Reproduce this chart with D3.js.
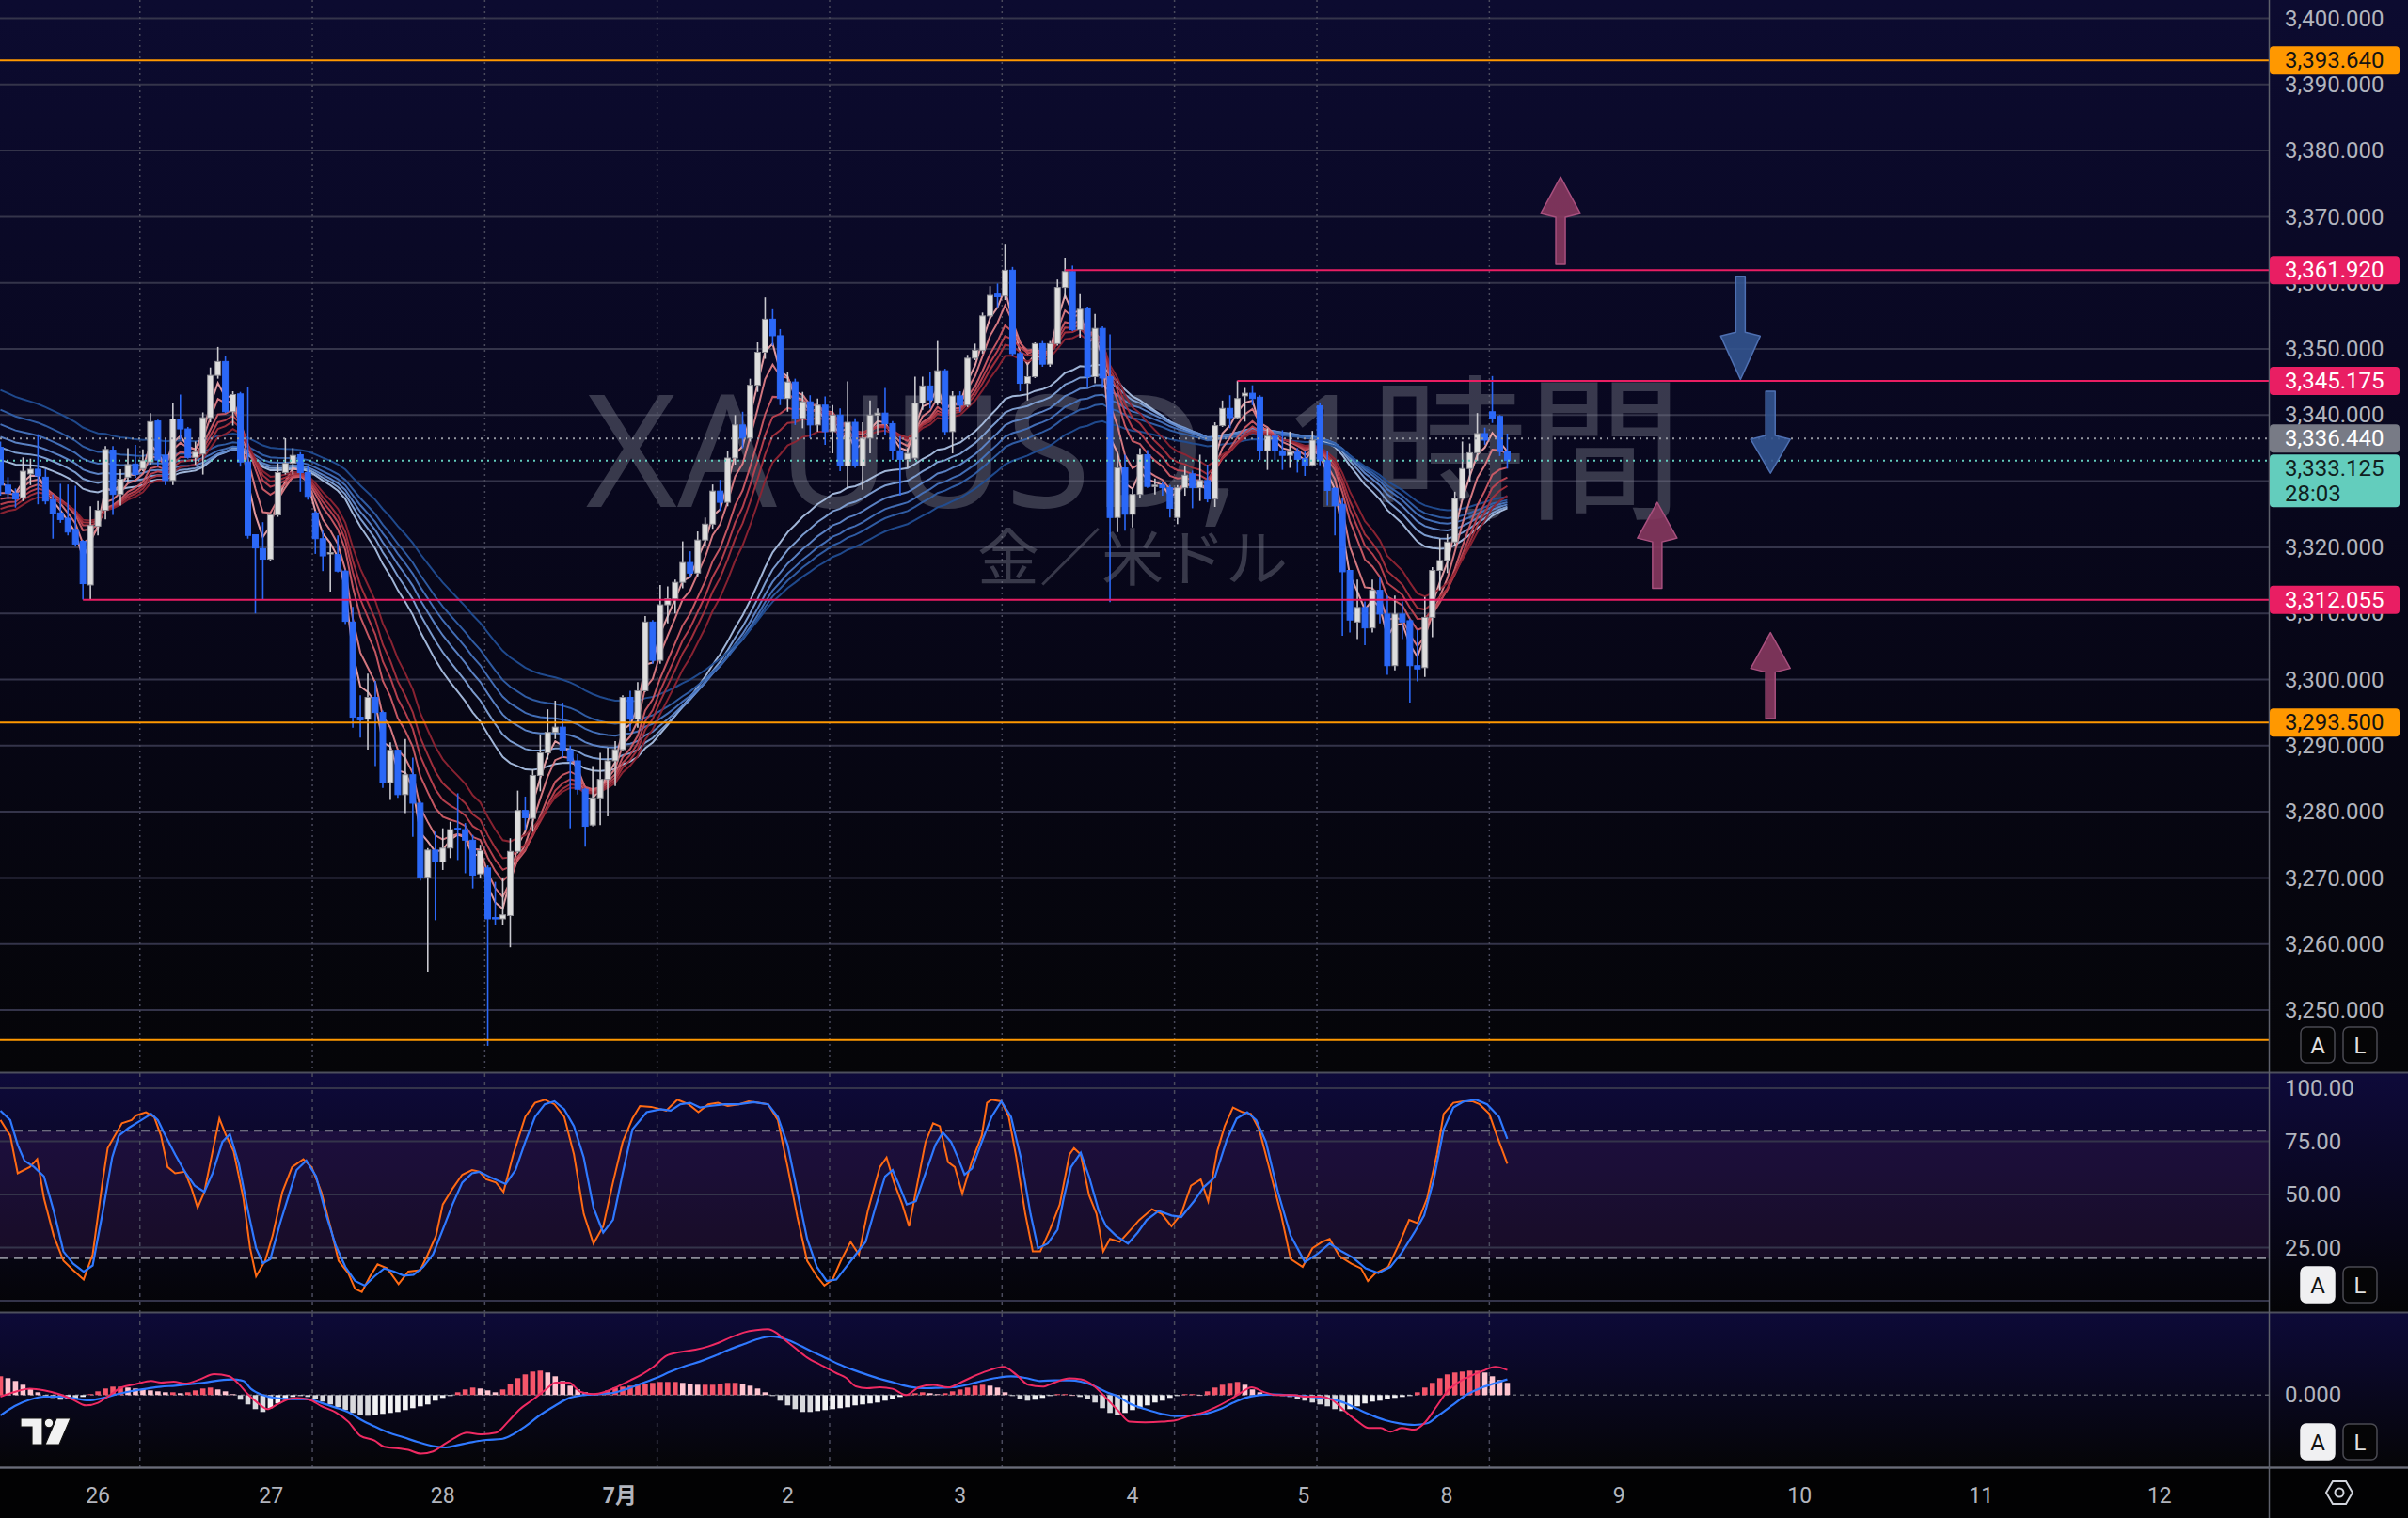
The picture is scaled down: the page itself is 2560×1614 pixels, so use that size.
<!DOCTYPE html>
<html><head><meta charset="utf-8">
<script src="https://cdn.jsdelivr.net/npm/d3@7"></script>
<style>html,body{margin:0;padding:0;background:#000;}svg{display:block;}</style>
</head><body>
<svg id="chart" width="2560" height="1614"></svg>
<script>
// ---------------- DATA ----------------
// hourly candles, bar index 0..201 : [open, high, low, close]
const ohlc = [
[3335.1,3336.0,3327.8,3329.4],[3329.4,3330.6,3327.3,3328.2],[3328.2,3328.9,3326.0,3327.3],[3327.5,3333.6,3327.0,3331.5],
[3331.1,3333.4,3329.4,3331.8],[3331.8,3337.1,3326.5,3330.8],[3330.6,3331.8,3326.5,3327.0],[3327.2,3328.0,3321.3,3325.1],
[3325.2,3329.6,3323.7,3324.2],[3324.4,3329.5,3321.8,3322.3],[3322.7,3329.3,3320.1,3320.5],[3320.9,3321.1,3312.1,3314.5],
[3314.3,3326.2,3312.1,3323.3],[3323.2,3327.0,3321.8,3325.6],[3325.6,3335.3,3324.2,3334.8],[3334.7,3335.3,3324.9,3328.0],
[3328.0,3331.8,3326.3,3330.3],[3330.6,3335.0,3329.8,3332.5],[3332.6,3335.5,3330.5,3331.0],[3331.9,3334.8,3331.5,3333.1],
[3332.9,3340.3,3332.5,3339.0],[3339.1,3339.3,3332.2,3333.2],[3333.9,3336.5,3329.4,3330.1],[3330.1,3341.8,3329.4,3339.4],
[3339.4,3343.1,3336.3,3337.9],[3337.9,3338.2,3333.4,3333.6],[3333.6,3336.0,3332.5,3334.4],[3334.1,3340.4,3331.0,3339.6],
[3339.6,3347.2,3338.9,3346.0],[3346.0,3350.3,3345.5,3348.1],[3348.1,3348.9,3340.3,3340.5],[3340.5,3343.6,3338.4,3343.1],
[3343.2,3343.5,3332.2,3332.9],[3332.9,3344.2,3321.3,3321.8],[3321.9,3321.9,3310.0,3319.9],[3319.8,3323.8,3312.1,3318.2],
[3318.2,3325.1,3318.0,3324.9],[3324.9,3332.7,3324.6,3331.3],[3331.3,3336.5,3331.0,3332.7],[3332.7,3335.0,3331.0,3333.9],
[3334.0,3334.4,3328.4,3331.3],[3331.3,3332.2,3327.2,3327.7],[3325.2,3325.5,3319.0,3321.3],[3321.3,3322.5,3316.4,3318.7],
[3319.0,3320.6,3313.3,3319.2],[3318.9,3321.8,3316.2,3316.4],[3316.4,3316.6,3308.4,3308.8],[3308.7,3311.0,3292.7,3294.3],
[3294.3,3297.6,3291.2,3293.9],[3294.0,3300.9,3289.4,3297.3],[3297.3,3299.8,3286.9,3295.0],[3295.0,3295.3,3283.6,3284.4],
[3284.4,3290.5,3281.8,3289.3],[3289.3,3289.4,3282.1,3282.6],[3282.6,3291.0,3279.8,3285.6],[3285.6,3288.2,3276.2,3281.3],
[3281.3,3281.6,3269.6,3270.1],[3270.1,3274.5,3255.7,3274.2],[3274.2,3277.0,3263.6,3272.4],[3272.4,3277.5,3271.2,3274.5],
[3274.5,3278.5,3273.0,3277.3],[3277.5,3282.8,3272.7,3277.3],[3277.3,3278.3,3270.7,3275.7],[3275.7,3276.5,3268.4,3270.4],
[3270.6,3275.0,3269.9,3274.1],[3271.5,3271.9,3244.6,3263.8],[3264.0,3269.4,3262.8,3263.8],[3263.8,3269.9,3262.8,3264.4],
[3264.3,3276.0,3259.5,3274.0],[3274.0,3283.2,3273.7,3280.2],[3280.2,3282.3,3277.3,3279.1],[3279.0,3286.4,3277.0,3285.5],
[3285.5,3291.7,3283.1,3288.9],[3288.9,3295.5,3287.9,3292.0],[3292.0,3296.8,3291.0,3292.8],[3292.8,3296.5,3288.2,3289.3],
[3289.3,3290.0,3277.5,3287.7],[3287.7,3288.7,3282.6,3283.4],[3283.4,3283.6,3274.7,3277.8],[3278.0,3286.9,3277.8,3282.1],
[3282.1,3288.9,3278.0,3284.9],[3284.9,3289.7,3279.3,3287.7],[3287.7,3290.7,3283.9,3289.4],[3289.4,3297.6,3289.2,3297.3],
[3297.3,3298.3,3292.2,3294.0],[3294.0,3299.6,3292.7,3298.3],[3298.3,3309.6,3298.1,3308.7],[3308.7,3309.0,3302.4,3302.9],
[3302.9,3314.3,3302.4,3311.3],[3311.3,3314.1,3308.5,3312.2],[3312.2,3315.1,3310.0,3314.7],[3314.7,3320.9,3313.8,3317.7],
[3317.7,3319.4,3315.6,3316.1],[3316.1,3322.4,3315.6,3321.1],[3321.1,3324.5,3320.2,3323.5],[3323.5,3329.5,3322.8,3328.5],
[3328.5,3330.2,3325.5,3326.8],[3326.8,3334.5,3326.2,3333.5],[3333.5,3340.0,3332.5,3338.5],[3338.5,3340.5,3335.0,3336.5],
[3336.5,3345.5,3336.0,3344.5],[3344.5,3351.0,3343.5,3349.5],[3349.5,3357.8,3348.5,3354.5],[3354.5,3356.0,3350.5,3352.0],
[3352.0,3353.0,3341.5,3342.5],[3342.5,3346.5,3340.5,3345.0],[3345.0,3345.5,3338.5,3339.5],[3339.5,3343.5,3338.0,3342.0],
[3342.0,3343.0,3336.5,3338.5],[3338.5,3342.5,3337.5,3341.5],[3341.5,3342.8,3335.5,3337.5],[3337.5,3341.5,3334.2,3340.0],
[3340.0,3341.0,3331.5,3332.3],[3332.3,3345.1,3328.9,3338.9],[3338.9,3339.5,3332.0,3332.3],[3332.3,3338.9,3328.7,3336.5],
[3336.5,3342.2,3334.2,3340.0],[3340.0,3341.0,3337.0,3340.3],[3340.3,3344.1,3337.0,3338.7],[3338.7,3339.1,3333.2,3334.6],
[3334.6,3336.8,3327.8,3333.3],[3333.3,3335.0,3332.0,3334.2],[3333.5,3345.8,3333.2,3341.8],[3341.8,3345.8,3340.8,3344.4],
[3344.4,3346.5,3341.0,3342.3],[3341.8,3351.2,3341.5,3346.7],[3346.7,3347.0,3337.0,3337.5],[3337.5,3343.6,3334.2,3342.9],
[3342.9,3343.6,3340.5,3341.5],[3341.5,3349.1,3341.2,3348.6],[3348.6,3350.8,3348.3,3349.8],[3349.8,3355.5,3349.3,3355.0],
[3355.0,3359.5,3354.5,3358.1],[3358.3,3359.9,3356.3,3357.9],[3358.0,3365.9,3357.4,3361.9],[3361.9,3362.4,3349.0,3349.3],
[3349.3,3349.6,3343.6,3344.8],[3344.8,3347.7,3342.2,3345.8],[3345.8,3351.0,3345.6,3350.8],[3350.8,3351.2,3347.3,3347.7],
[3347.7,3351.2,3347.3,3350.8],[3350.8,3360.5,3350.5,3359.3],[3359.3,3363.8,3357.6,3361.7],[3361.7,3362.6,3352.7,3352.9],
[3352.9,3358.3,3351.7,3356.0],[3356.2,3356.4,3344.1,3345.8],[3345.8,3355.3,3344.8,3353.1],[3353.1,3353.4,3344.1,3345.6],
[3345.8,3352.2,3311.7,3324.5],[3324.5,3334.2,3322.3,3332.0],[3332.0,3334.0,3322.5,3325.0],[3325.0,3329.0,3323.0,3328.0],
[3328.0,3335.0,3327.5,3334.0],[3334.0,3334.7,3329.0,3329.2],[3329.2,3330.4,3328.0,3329.4],[3329.4,3329.9,3327.8,3329.0],
[3329.0,3329.4,3324.5,3325.9],[3324.5,3329.4,3323.5,3329.0],[3329.0,3332.3,3327.8,3330.9],[3331.1,3331.6,3325.9,3329.0],
[3329.0,3334.0,3327.0,3330.1],[3330.1,3332.5,3326.8,3327.3],[3327.3,3338.9,3326.1,3338.4],[3338.4,3342.2,3338.2,3341.0],
[3341.0,3343.0,3338.0,3339.6],[3339.6,3345.2,3339.4,3342.5],[3342.9,3344.1,3339.0,3343.3],[3343.3,3344.5,3341.5,3342.5],
[3342.7,3343.0,3333.2,3334.6],[3334.6,3338.0,3331.7,3336.8],[3336.8,3337.7,3333.2,3334.6],[3334.6,3337.7,3331.7,3333.9],
[3333.9,3337.5,3332.0,3334.4],[3334.4,3335.0,3331.3,3333.3],[3333.4,3334.5,3330.8,3332.4],[3332.4,3337.6,3332.2,3336.2],
[3341.4,3341.9,3332.4,3333.1],[3333.1,3334.5,3326.3,3328.6],[3328.9,3329.1,3321.8,3326.3],[3326.5,3327.4,3306.6,3316.3],
[3316.5,3316.5,3307.1,3309.0],[3308.7,3315.1,3306.1,3310.9],[3310.9,3311.8,3305.2,3307.8],[3307.8,3315.1,3307.1,3313.5],
[3313.5,3315.4,3308.5,3309.9],[3309.9,3312.7,3300.7,3302.1],[3302.1,3312.7,3301.4,3309.9],[3309.9,3311.8,3306.1,3308.7],
[3308.9,3309.2,3296.5,3302.1],[3302.1,3307.5,3299.7,3301.6],[3301.8,3312.5,3300.4,3309.4],[3309.4,3317.0,3306.4,3316.5],
[3316.5,3321.3,3313.5,3318.0],[3318.0,3322.0,3316.1,3320.8],[3320.8,3328.4,3320.1,3327.4],[3327.4,3336.0,3327.2,3331.9],
[3331.9,3335.7,3329.8,3334.3],[3334.3,3340.3,3333.1,3337.2],[3337.2,3338.1,3335.5,3336.2],[3340.5,3345.9,3338.8,3339.5],
[3339.8,3340.0,3333.8,3334.5],[3334.5,3337.2,3331.9,3333.125]
];

// GMMA (short: red group, long: blue group) – periods and their values at the left edge
const gmmaShortPeriods = [3, 5, 8, 10, 12, 15];
const gmmaShortStart   = [3329.9, 3328.2, 3327.3, 3326.5, 3325.8, 3325.1];
const gmmaLongPeriods  = [30, 35, 40, 45, 50, 60];
const gmmaLongStart    = [3333.2, 3335.1, 3336.7, 3338.6, 3340.8, 3343.8];

// price axis
const priceTicks = [3250,3260,3270,3280,3290,3300,3310,3320,3330,3340,3350,3360,3370,3380,3390,3400];
// labels actually visible on the axis (3,330 is covered by the live price tag)
const priceLabelTicks = [3250,3260,3270,3280,3290,3300,3310,3320,3340,3350,3360,3370,3380,3390,3400];
// horizontal drawings
const levelPrices = [3393.64, 3361.92, 3345.175, 3312.055, 3293.5, 3245.5];
const levelStart  = [null, 142, 165, 11, null, null];
const levelKind   = ["orange", "red", "red", "red", "orange", "orange"];
const tagPrices = [3393.64, 3361.92, 3345.175, 3312.055, 3293.5];
const tagKind   = ["orange", "red", "red", "red", "orange"];
const prevClose = 3336.44;
const lastPrice = 3333.125;
const countdown = "28:03";

// arrows: bar, tail price, tip price
const arrowBars = [208.1, 232.1, 236.1, 221.0, 236.1];
const arrowTail = [3362.8, 3361.0, 3343.6, 3313.8, 3294.1];
const arrowTip  = [3376.0, 3345.4, 3331.2, 3326.8, 3307.1];
const arrowKind = ["up", "down", "down", "up", "up"];

// time axis
const dayTickBars   = [13, 36.1, 59, 82.6, 105, 128, 151, 173.8, 192.9, 215.9, 240, 264.2, 288];
const dayTickLabels = ["26","27","28","7月","2","3","4","5","8","9","10","11","12"];
const gridBars = [18.6, 41.6, 64.6, 87.6, 110.6, 133.6, 156.6, 175.6, 198.6];

// stochastic [bar, value]
const stochK = [[0,85],[1.3,77.7],[2.3,60],[3.9,62.9],[4.9,66.6],[5.8,48.2],[7.1,30.6],[8.4,18.8],[9.7,14.4],[11.1,10],[12.3,21.8],[13.6,55.6],[14.3,71.8],[16.2,83.5],[17.5,85],[18.1,87.2],[19.4,88.7],[20.5,86.5],[21.4,77.7],[22.3,62.9],[23.3,60],[24.6,60.7],[25.5,52.7],[26.3,43.8],[27.2,51.2],[28.3,70.3],[29.2,85.7],[30.1,77.7],[31.1,70.3],[32.4,48.2],[33.3,24.7],[34.1,11.5],[35.3,18.8],[36.3,30.6],[37.6,51.2],[38.9,62.9],[40.4,66.6],[41.5,62.9],[42.8,51.2],[44.1,33.5],[45.1,18.8],[46.4,12.9],[47.3,5.6],[48.2,4.1],[49.3,11.5],[50.3,17.1],[51.6,15.2],[53.1,7.8],[54.4,13.7],[56,14.4],[57,21.8],[58.1,30.6],[59,45.3],[60.3,52.7],[61.6,59.3],[62.9,61.5],[63.9,60.7],[64.8,57.1],[66.1,55.6],[67.1,51.2],[68.4,68.8],[70,86.5],[71.3,93.1],[72.6,94.6],[73.9,92.4],[75.2,86.5],[76.5,68.8],[77.8,40.9],[79.1,26.9],[80.4,35],[81.7,55.6],[83,74.7],[84.3,85.7],[85.3,91.6],[86.8,91.2],[88.8,89.4],[90.3,94.6],[91.8,92.4],[93.1,88.7],[94.4,92.4],[95.7,93.1],[97,91.6],[98.5,92.4],[99.8,93.8],[101.1,93.1],[102.4,92.4],[103.7,85],[105,62.9],[106.3,39.4],[107.6,18.8],[108.9,11.5],[109.9,7.1],[111,10],[112.1,18.8],[113.4,27.7],[114.5,21.8],[115.7,42.3],[117.3,62.9],[118.2,67.4],[119.2,55.6],[120.3,45.3],[121.2,35],[122.5,58.5],[123.4,74.7],[124.4,83.5],[125.3,82.1],[126.4,65.2],[127.3,62.9],[128.3,50.4],[129.6,65.9],[130.9,77.7],[131.6,93.1],[132.2,94.6],[133.5,93.8],[134.5,86.5],[135.5,67.4],[136.7,40.9],[137.7,23.2],[138.7,23.2],[140,33.5],[141.3,45.3],[142.6,68.8],[143.2,71.8],[144.1,68.8],[145.2,49.7],[146.2,40.9],[147.1,23.2],[148,29.1],[149.3,27.7],[150.6,32.8],[151.9,38],[153.6,43.1],[154.9,40.9],[156.2,35],[157.5,40.9],[158.8,54.1],[160.1,57.1],[161.1,46.8],[162.3,70.3],[163.3,82.1],[164.4,90.9],[165.7,88.7],[166.8,87.9],[167.9,80.6],[169.2,62.9],[170.8,40.9],[172.1,19.6],[173.7,15.9],[175,24.7],[176.3,27.7],[177.3,29.1],[178.6,21],[180.2,17.4],[181.5,15.2],[182.4,9.3],[183.4,12.9],[185.1,15.9],[186.6,26.9],[187.9,38],[189,36.5],[190.3,48.2],[191.6,68.8],[192.5,87.9],[193.8,93.1],[195.1,93.8],[196.4,93.8],[197.3,92.4],[198.6,87.9],[199.6,77.7],[201,64.4]];
const stochD = [[0,89.4],[1.3,85],[2.3,73.3],[3.2,65.9],[4.5,62.9],[5.8,58.5],[7.1,42.3],[8.4,23.2],[9.7,17.4],[11.1,13.7],[12.3,16.6],[13.6,40.9],[14.9,67.4],[15.8,77.7],[17.1,81.3],[18.8,85],[20.1,87.9],[21,85],[22,77.7],[23.3,68.8],[24.6,60.7],[25.9,54.1],[27.2,51.2],[28.3,60],[29.6,74.7],[30.6,78.4],[31.8,64.4],[33.1,40.9],[34.1,24.7],[35,17.6],[36,19.6],[37.3,36.5],[38.6,51.2],[39.5,61.5],[40.8,65.9],[42.1,58.5],[43.4,40.9],[44.7,26.2],[46,15.9],[47.3,9.3],[48.6,7.1],[49.9,11.5],[51.2,15.2],[52.5,13.7],[53.8,11.8],[55.1,12.2],[56.4,15.9],[57.7,21.8],[59,33.5],[60.3,45.3],[61.6,55.6],[62.9,60],[63.9,60.7],[65.5,57.8],[67.4,54.9],[68.7,61.5],[70,74.7],[71.3,86.5],[72.6,92.4],[73.9,93.8],[75.2,90.1],[76.5,82.1],[77.8,67.4],[79.1,43.8],[80.4,32.1],[81.7,38],[83,60],[84.3,80.6],[86.2,88.7],[88.1,90.1],[89.4,89.4],[90.7,92.4],[92,93.1],[93.3,90.9],[94.6,91.6],[96.6,92.4],[98.5,92.4],[100.5,93.4],[102.4,92.4],[103.7,86.5],[105,73.3],[106.3,51.2],[107.6,29.1],[108.9,15.9],[110.2,9.3],[111.5,10],[112.8,15.9],[114.1,21.8],[115.4,27.7],[116.7,43.8],[118,58.5],[119,61.5],[119.9,54.1],[120.9,45.3],[122.1,46.8],[123.4,60],[124.7,73.3],[125.7,79.2],[126.8,74.7],[127.7,67.4],[128.6,59.3],[129.6,62.2],[130.9,74.7],[132.2,86.5],[133.5,93.8],[134.8,86.5],[136.1,67.4],[137.4,40.9],[138.4,24.7],[139.7,26.9],[141,33.5],[141.8,47.8],[142.8,62.9],[144.1,69.6],[145.2,58.5],[146.5,42.3],[147.5,35],[148.8,30.6],[150.4,26.9],[151.7,32.1],[152.9,38],[154.5,42.3],[156.2,40.1],[157.5,39.4],[159.2,46.8],[160.5,53.4],[162,58.2],[163.6,75.8],[164.9,85.7],[166.3,88.7],[167.5,85],[168.8,74.7],[170.4,51.2],[172.1,30.6],[174,18.2],[175.6,21.8],[177.3,26.9],[178.9,23.2],[180.4,20.3],[182.1,15.2],[183.8,13],[185.4,15.9],[186.9,22.5],[188.6,32.1],[189.9,40.1],[191.2,57.1],[192.5,80.6],[193.8,90.9],[195.1,93.6],[196.8,94.6],[198.3,92.4],[199.9,86.5],[201,76.2]];
const stochTicks = [100, 75, 50, 25];
const stochBands = [80, 20];

// MACD [bar, value]
const macdLine = [[0,-0.17],[1.9,0.33],[3.9,0.67],[5.8,0.5],[7.8,0.1],[9.7,-0.5],[11.4,-1.1],[13,-0.83],[14.3,-0.17],[16.2,0.83],[18.1,1.17],[20.1,1.5],[21.4,1.33],[23.1,1.43],[24.6,1.23],[26.6,1.67],[28.5,2.23],[30.5,2.0],[31.8,1.17],[33.1,0],[34.3,-0.83],[35.6,-1.5],[36.9,-1.0],[38.2,-0.5],[39.5,-0.33],[41.2,-0.5],[42.8,-1.17],[44.7,-1.83],[46.4,-2.83],[48,-4.33],[49.9,-4.83],[51.2,-5.5],[53.1,-5.67],[54.4,-5.83],[56.1,-6.23],[57.7,-6.0],[59,-5.33],[60.7,-4.5],[62.2,-4.0],[64.2,-4.17],[66.1,-4.0],[67.7,-2.83],[69.3,-1.5],[71,-0.5],[72.6,0.5],[74.1,1.33],[75.8,1.33],[77.4,0.33],[79.1,0.1],[80.6,0.33],[82.3,0.9],[84,1.57],[85.5,2.17],[87.1,3.0],[88.8,4.17],[90.7,4.57],[92.7,4.83],[94.4,5.17],[95.9,5.6],[97.5,6.17],[99.2,6.67],[100.8,6.9],[102.4,7.0],[103.4,6.67],[104.7,5.83],[106,5.0],[107.6,4.0],[109.5,3.17],[111.5,2.33],[112.8,1.83],[114.1,0.93],[115.6,0.73],[117.3,0.83],[119,0.67],[120.8,0],[122.5,0.83],[124.4,1.07],[126.4,0.83],[128.3,1.43],[130.3,2.17],[132,2.67],[133.8,3.0],[135.5,2.17],[137.1,1.1],[139,0.9],[140.6,1.33],[142.6,1.77],[144.1,1.67],[145.8,1.0],[147.5,-0.33],[149.1,-1.67],[150.6,-2.83],[152.7,-2.9],[154.9,-2.83],[156.8,-2.67],[158.8,-2.17],[160.5,-1.83],[162,-1.33],[163.6,-0.67],[165.3,0.17],[166.9,0.83],[168.5,0.33],[170.4,0],[172.4,0],[174.3,-0.17],[176,-0.17],[177.6,-0.5],[179.5,-1.83],[181.1,-2.83],[182.5,-3.5],[184.1,-3.5],[185.4,-3.9],[186.9,-3.5],[188.6,-3.67],[189.9,-3.0],[191.6,-1.17],[193.1,0.5],[194.4,1.33],[196,2.0],[197.7,2.57],[199.4,3.0],[201,2.67]];
const signalLine = [[0,-2.17],[1.9,-1.17],[3.9,-0.5],[5.8,-0.17],[7.8,-0.17],[9.7,-0.33],[11.7,-0.57],[13.6,-0.33],[15.6,0.1],[17.5,0.43],[19.4,0.67],[21.4,0.9],[23.3,1.0],[25.3,1.17],[27.2,1.33],[29.2,1.57],[31.1,1.67],[32.4,1.5],[33.4,0.67],[35,0],[36.9,-0.33],[38.9,-0.43],[40.8,-0.43],[42.8,-0.83],[44.7,-1.33],[46.4,-1.83],[48.2,-2.67],[49.9,-3.33],[51.8,-4.0],[53.8,-4.5],[55.7,-5.0],[57.7,-5.43],[59.4,-5.57],[60.9,-5.33],[62.9,-5.0],[64.8,-4.77],[66.8,-4.67],[68,-4.33],[70,-3.33],[71.9,-2.17],[73.9,-1.17],[75.8,-0.33],[77.8,0],[79.7,0.1],[81.7,0.23],[83.6,0.67],[85.5,1.23],[87.5,1.83],[89.4,2.5],[91.4,3.1],[93.3,3.57],[95.3,4.17],[97.2,4.83],[99.2,5.43],[100.8,5.9],[102.7,6.23],[103.7,6.17],[105.3,5.77],[106.9,5.17],[108.6,4.5],[110.2,3.9],[111.7,3.33],[113.8,2.67],[115.6,2.17],[117.3,1.73],[119.2,1.33],[121.2,0.9],[123.1,0.73],[125.1,0.77],[127,0.83],[129,1.1],[130.9,1.5],[132.9,1.83],[134.8,2.0],[136.7,1.83],[138.7,1.5],[140.6,1.57],[142.6,1.57],[144.1,1.43],[145.8,1.0],[147.5,0.33],[149.1,-0.17],[150.6,-0.9],[152.7,-1.5],[154.9,-2.0],[156.8,-2.23],[158.8,-2.17],[160.7,-2.0],[162.7,-1.5],[164.4,-0.83],[165.9,-0.33],[167.9,0],[169.8,0.07],[171.7,0],[173.7,-0.1],[175.6,-0.23],[177.6,-0.43],[179.5,-0.9],[181.1,-1.5],[183,-2.17],[184.7,-2.67],[186.6,-3.0],[188.6,-3.17],[190.3,-3.0],[191.8,-2.17],[193.8,-1.0],[195.7,0.1],[197.7,0.83],[199.6,1.33],[201,1.67]];
// histogram, one value per bar
const macdHist = [
2.0,1.8,1.5,1.1,0.7, 0.3,-0.1,-0.3,-0.5,-0.4, -0.4,-0.2,0.1, 0.4,0.7,0.9,0.9,0.8, 0.7,0.6,0.5,0.4,0.3,
0.3,0.2,0.3,0.5,0.7,0.8,0.6, 0.4,0.1, -0.5,-1.0,-1.5,-1.8,-1.4,-0.9, -0.5,-0.2,-0.1,-0.2,
-0.4,-0.7,-1.0,-1.3,-1.6,-1.9,-2.1,-2.2,-2.1,-2.0,-1.9,-1.8,-1.6,-1.4,-1.2,-1.0, -0.6,-0.3,-0.1,
0.3,0.6,0.8,0.7,0.5,0.3, 0.6,1.2,1.8,2.2,2.5, 2.6,2.4,2.0, 1.5,1.0,0.6,0.3,0.1, 0.2,0.5,0.8,0.9,1.0,
1.1,1.2,1.3,1.4,1.4,1.4,1.3,1.2,1.1,1.1,1.1,1.2,1.3,1.3,1.2,1.0, 0.7,0.3,-0.1,
-0.6,-1.1,-1.5,-1.8,-1.8,-1.7,-1.6,-1.5,-1.4,-1.3,-1.1,-1.0,-0.9,-0.8, -0.6,-0.4,-0.2,0.0,
0.2,0.3,0.2,0.1,0.2, 0.4,0.6,0.8,1.0,1.1,1.0,0.8, 0.3,-0.1, -0.4,-0.6,-0.5,-0.3,-0.1,0.1, 0.1,0.0,-0.2,-0.4,
-0.8,-1.4,-1.9,-2.1,-1.9,-1.6,-1.4,-1.1,-0.8,-0.6,-0.3, -0.1,0.1,0.1,0.0, 0.4,0.8,1.1,1.3,1.4,1.1,0.6,
0.3,0.1,0.0,-0.1,-0.2, -0.4,-0.6,-0.8,-1.0,-1.2,-1.5,-1.7,-1.5,-1.2,-0.9, -0.7,-0.6,-0.4,-0.3,-0.2,-0.1,
0.3,0.8,1.3,1.8,2.2,2.4,2.5, 2.6,2.6,2.4,2.0,1.6,1.3
];
const macdTicks = [0];

const watermarkTitle = "XAUUSD, 1時間";
const watermarkSub = "金／米ドル";

// ---------------- LAYOUT ----------------
const W = 2560, H = 1614, PR = 2412;
const MAIN = [0, 1140], STO = [1141, 1395], MAC = [1396, 1560];
const FONT = "Roboto, 'Noto Sans', 'Noto Sans CJK JP', sans-serif";
const COL = {
  up: "#dedede", upStroke: "#8f8f96", upWick: "#c9c9cf",
  down: "#2b68f7", downWick: "#2b68f7",
  orange: "#ff9800", red: "#e91e63", grey: "#787b86", teal: "#63cdbd",
  grid: "#34344a", vgrid: "#4a4a5c", axisText: "#b2b5be"
};

const svg = d3.select("#chart");
const defs = svg.append("defs");
function vgrad(id, y0, y1, stops) {
  const g = defs.append("linearGradient").attr("id", id).attr("gradientUnits", "userSpaceOnUse")
    .attr("x1", 0).attr("x2", 0).attr("y1", y0).attr("y2", y1);
  stops.forEach(s => g.append("stop").attr("offset", s[0]).attr("stop-color", s[1]));
}
vgrad("bgMain", MAIN[0], MAIN[1], [[0, "#0c0b30"], [0.45, "#08071d"], [1, "#050508"]]);
vgrad("bgSto", STO[0], STO[1], [[0, "#0e0a3a"], [1, "#040406"]]);
vgrad("bgMac", MAC[0], MAC[1], [[0, "#0d0a38"], [1, "#050507"]]);
function clip(id, y0, y1) {
  defs.append("clipPath").attr("id", id).append("rect").attr("x", 0).attr("y", y0).attr("width", PR).attr("height", y1 - y0);
}
clip("cMain", MAIN[0], MAIN[1]); clip("cSto", STO[0], STO[1]); clip("cMac", MAC[0], MAC[1]);

// scales
const x = d3.scaleLinear().domain([0, 302.6]).range([0.5, 0.5 + 302.6 * 7.97]);
const yP = d3.scaleLinear().domain([3400, 3250]).range([19.5, 19.5 + 150 * 7.03]);
const yS = d3.scaleLinear().domain([100, 0]).range([1157, 1383]);
const yM = d3.scaleLinear().domain([0, 1]).range([1483.3, 1473.3]);

// backgrounds
svg.append("rect").attr("x", 0).attr("y", 0).attr("width", W).attr("height", H).attr("fill", "#030304");
svg.append("rect").attr("x", 0).attr("y", MAIN[0]).attr("width", W).attr("height", MAIN[1] - MAIN[0]).attr("fill", "url(#bgMain)");
svg.append("rect").attr("x", 0).attr("y", STO[0]).attr("width", W).attr("height", STO[1] - STO[0]).attr("fill", "url(#bgSto)");
svg.append("rect").attr("x", 0).attr("y", MAC[0]).attr("width", W).attr("height", MAC[1] - MAC[0]).attr("fill", "url(#bgMac)");

// ---------------- MAIN PANE ----------------
const gMain = svg.append("g").attr("clip-path", "url(#cMain)");
gMain.selectAll("line.hg").data(priceTicks).join("line").attr("class", "hg")
  .attr("x1", 0).attr("x2", PR).attr("y1", d => yP(d)).attr("y2", d => yP(d))
  .attr("stroke", COL.grid).attr("stroke-width", 2);
gMain.selectAll("line.vg").data(gridBars).join("line").attr("class", "vg")
  .attr("x1", d => x(d)).attr("x2", d => x(d)).attr("y1", MAIN[0]).attr("y2", MAIN[1])
  .attr("stroke", COL.vgrid).attr("stroke-width", 1.5).attr("stroke-dasharray", "2,4");

// watermark
gMain.append("text").attr("x", 1206).attr("y", 539).attr("text-anchor", "middle")
  .attr("font-family", "'Noto Sans', 'Noto Sans CJK JP', sans-serif").attr("font-size", 166)
  .attr("fill", "#7b7e8c").attr("fill-opacity", 0.42).text(watermarkTitle);
gMain.append("text").attr("x", 1204).attr("y", 617).attr("text-anchor", "middle")
  .attr("font-family", "'Noto Sans CJK JP', sans-serif").attr("font-size", 66)
  .attr("fill", "#7b7e8c").attr("fill-opacity", 0.42).text(watermarkSub);

// GMMA ribbons (exponential averages of the read closes)
const closes = ohlc.map(d => d[3]);
function ema(vals, period, start) {
  const a = 2 / (period + 1); let e = start;
  return vals.map((v, i) => (i === 0 ? (e = start) : (e = e + a * (v - e))));
}
const redCols = ["#eca2a8", "#de7d85", "#cf5c66", "#bd4250", "#a7303d", "#8e2433"];
const blueCols = ["#a9bfe2", "#82a3d8", "#5f88cc", "#4673be", "#3160aa", "#214d92"];
const lineGen = d3.line().x((d, i) => x(i)).y(d => yP(d));
gmmaLongPeriods.forEach((p, j) => {
  gMain.append("path").datum(ema(closes, p, gmmaLongStart[j])).attr("d", lineGen)
    .attr("fill", "none").attr("stroke", blueCols[j]).attr("stroke-width", 2).attr("stroke-opacity", 0.95);
});
gmmaShortPeriods.forEach((p, j) => {
  gMain.append("path").datum(ema(closes, p, gmmaShortStart[j])).attr("d", lineGen)
    .attr("fill", "none").attr("stroke", redCols[j]).attr("stroke-width", 2).attr("stroke-opacity", 0.95);
});

// candles
const cg = gMain.append("g");
const bw = 6;
ohlc.forEach((d, i) => {
  const [o, h, l, c] = d; const up = c >= o; const xc = x(i);
  cg.append("line").attr("x1", xc).attr("x2", xc).attr("y1", yP(h)).attr("y2", yP(l))
    .attr("stroke", up ? COL.upWick : COL.downWick).attr("stroke-width", 1.6);
  const y0 = yP(Math.max(o, c)), y1 = yP(Math.min(o, c));
  cg.append("rect").attr("x", xc - bw / 2).attr("y", y0).attr("width", bw).attr("height", Math.max(1.5, y1 - y0))
    .attr("fill", up ? COL.up : COL.down).attr("stroke", up ? COL.upStroke : COL.down).attr("stroke-width", 1);
});

// horizontal levels
levelPrices.forEach((p, i) => {
  const x1 = levelStart[i] == null ? 0 : x(levelStart[i]);
  gMain.append("line").attr("x1", x1).attr("x2", PR).attr("y1", yP(p)).attr("y2", yP(p))
    .attr("stroke", levelKind[i] === "orange" ? COL.orange : COL.red).attr("stroke-width", 2);
});
// price lines (dotted)
gMain.append("line").attr("x1", 0).attr("x2", PR).attr("y1", yP(prevClose)).attr("y2", yP(prevClose))
  .attr("stroke", "#9598a1").attr("stroke-width", 2).attr("stroke-dasharray", "2,5");
gMain.append("line").attr("x1", 0).attr("x2", PR).attr("y1", yP(lastPrice)).attr("y2", yP(lastPrice))
  .attr("stroke", COL.teal).attr("stroke-width", 2).attr("stroke-dasharray", "2,5");

// arrows
arrowBars.forEach((b, i) => {
  const xc = x(b), yt = yP(arrowTail[i]), yh = yP(arrowTip[i]);
  const dir = yh < yt ? -1 : 1;
  const L = Math.abs(yh - yt);
  const hl = Math.min(L * 0.46, 50), hw = 21, sw = 5;
  const yb = yh - dir * hl;
  const path = `M${xc - sw},${yt} L${xc - sw},${yb} L${xc - hw},${yb + dir * 4} L${xc},${yh} L${xc + hw},${yb + dir * 4} L${xc + sw},${yb} L${xc + sw},${yt} Z`;
  const isUp = arrowKind[i] === "up";
  gMain.append("path").attr("d", path)
    .attr("fill", isUp ? "#87385f" : "#33548f").attr("fill-opacity", 0.9)
    .attr("stroke", isUp ? "#a8507e" : "#4e70b2").attr("stroke-width", 1.5).attr("stroke-linejoin", "round");
});

// ---------------- STOCHASTIC ----------------
const gSto = svg.append("g").attr("clip-path", "url(#cSto)");
gSto.append("rect").attr("x", 0).attr("width", PR).attr("y", yS(80)).attr("height", yS(20) - yS(80))
  .attr("fill", "rgb(150,60,180)").attr("fill-opacity", 0.13);
gSto.selectAll("line.sg").data([100, 75, 50, 25, 0]).join("line").attr("class", "sg")
  .attr("x1", 0).attr("x2", PR).attr("y1", d => yS(d)).attr("y2", d => yS(d))
  .attr("stroke", COL.grid).attr("stroke-width", 2);
gSto.selectAll("line.vg").data(gridBars).join("line").attr("class", "vg")
  .attr("x1", d => x(d)).attr("x2", d => x(d)).attr("y1", STO[0]).attr("y2", STO[1])
  .attr("stroke", COL.vgrid).attr("stroke-width", 1.5).attr("stroke-dasharray", "4,5");
gSto.selectAll("line.band").data(stochBands).join("line").attr("class", "band")
  .attr("x1", 0).attr("x2", PR).attr("y1", d => yS(d)).attr("y2", d => yS(d))
  .attr("stroke", "#8c8c98").attr("stroke-width", 2).attr("stroke-dasharray", "9,6");
const sLine = d3.line().x(d => x(d[0])).y(d => yS(d[1]));
gSto.append("path").datum(stochK).attr("d", sLine).attr("fill", "none").attr("stroke", "#ff6a14").attr("stroke-width", 2);
gSto.append("path").datum(stochD).attr("d", sLine).attr("fill", "none").attr("stroke", "#2f79ff").attr("stroke-width", 2.2);

// ---------------- MACD ----------------
const gMac = svg.append("g").attr("clip-path", "url(#cMac)");
gMac.selectAll("line.vg").data(gridBars).join("line").attr("class", "vg")
  .attr("x1", d => x(d)).attr("x2", d => x(d)).attr("y1", MAC[0]).attr("y2", MAC[1])
  .attr("stroke", COL.vgrid).attr("stroke-width", 1.5).attr("stroke-dasharray", "4,5");
gMac.append("line").attr("x1", 0).attr("x2", PR).attr("y1", yM(0)).attr("y2", yM(0))
  .attr("stroke", "#5d606b").attr("stroke-width", 1.5).attr("stroke-dasharray", "4,4");
macdHist.forEach((v, i) => {
  const prev = i > 0 ? macdHist[i - 1] : v;
  let col;
  if (v >= 0) col = v >= prev ? "#f5556a" : "#ffc4cf";
  else col = v <= prev ? "#d9d9dd" : "#f2f2f4";
  const y0 = yM(Math.max(0, v)), y1 = yM(Math.min(0, v));
  gMac.append("rect").attr("x", x(i) - 2.8).attr("width", 5.6).attr("y", y0).attr("height", Math.max(0.8, y1 - y0)).attr("fill", col);
});
const mLine = d3.line().x(d => x(d[0])).y(d => yM(d[1])).curve(d3.curveMonotoneX);
gMac.append("path").datum(signalLine).attr("d", mLine).attr("fill", "none").attr("stroke", "#2f79ff").attr("stroke-width", 2.2);
gMac.append("path").datum(macdLine).attr("d", mLine).attr("fill", "none").attr("stroke", "#ef2a62").attr("stroke-width", 2);

// TradingView logo
const logo = svg.append("g").attr("fill", "#f2f2f2").attr("stroke", "#111").attr("stroke-width", 1.2);
logo.append("path").attr("d", "M22,1508 H45 V1536 H34 V1517 H22 Z");
logo.append("circle").attr("cx", 52).attr("cy", 1513).attr("r", 4.8);
logo.append("path").attr("d", "M60,1508 H75 L63,1536 H48 Z");

// ---------------- SEPARATORS ----------------
[MAIN[1], STO[1], MAC[1]].forEach(yy => svg.append("line").attr("x1", 0).attr("x2", W).attr("y1", yy + 0.5).attr("y2", yy + 0.5)
  .attr("stroke", "#4d4f5c").attr("stroke-width", 2));
svg.append("line").attr("x1", PR + 0.5).attr("x2", PR + 0.5).attr("y1", 0).attr("y2", H).attr("stroke", "#5d606b").attr("stroke-width", 1.5);
svg.append("rect").attr("x", 0).attr("y", MAC[1] + 2).attr("width", W).attr("height", H - MAC[1] - 2).attr("fill", "#020203");
svg.append("line").attr("x1", 0).attr("x2", W).attr("y1", MAC[1] + 0.5).attr("y2", MAC[1] + 0.5).attr("stroke", "#6a6d78").attr("stroke-width", 2);
svg.append("line").attr("x1", PR + 0.5).attr("x2", PR + 0.5).attr("y1", MAC[1]).attr("y2", H).attr("stroke", "#5d606b").attr("stroke-width", 1.5);

// ---------------- AXES ----------------
function styleAxis(g) {
  g.select(".domain").remove();
  g.attr("font-family", FONT).attr("font-size", 24);
  g.selectAll("text").attr("fill", COL.axisText);
}
svg.append("g").attr("transform", `translate(${PR},0)`)
  .call(d3.axisRight(yP).tickValues(priceLabelTicks).tickFormat(d3.format(",.3f")).tickSize(0).tickPadding(17)).call(styleAxis);
svg.append("g").attr("transform", `translate(${PR},0)`)
  .call(d3.axisRight(yS).tickValues(stochTicks).tickFormat(d3.format(".2f")).tickSize(0).tickPadding(17)).call(styleAxis);
svg.append("g").attr("transform", `translate(${PR},0)`)
  .call(d3.axisRight(yM).tickValues(macdTicks).tickFormat(d3.format(".3f")).tickSize(0).tickPadding(17)).call(styleAxis);

// time axis labels
svg.append("g").selectAll("text").data(dayTickLabels).join("text")
  .attr("x", (d, i) => x(dayTickBars[i])).attr("y", 1590).attr("text-anchor", "middle").attr("dominant-baseline", "central")
  .attr("font-family", FONT).attr("font-size", 23).attr("font-weight", d => d === "7月" ? "bold" : "normal")
  .attr("fill", COL.axisText).text(d => d);

// price tags
const fmt = d3.format(",.3f");
const tagCol = { orange: [COL.orange, "#131313"], red: [COL.red, "#ffffff"] };
function tag(yc, h, fill, textCol, lines) {
  const g = svg.append("g");
  g.append("rect").attr("x", PR + 1).attr("y", yc).attr("width", 138).attr("height", h).attr("rx", 4).attr("fill", fill);
  lines.forEach((t, i) => g.append("text").attr("x", PR + 17).attr("y", yc + 15 + i * 27).attr("dominant-baseline", "central")
    .attr("font-family", FONT).attr("font-size", 24).attr("fill", textCol).text(t));
}
tagPrices.forEach((p, i) => tag(yP(p) - 15, 30, tagCol[tagKind[i]][0], tagCol[tagKind[i]][1], [fmt(p)]));
tag(yP(prevClose) - 15, 30, COL.grey, "#ffffff", [fmt(prevClose)]);
const tealTop = Math.max(yP(lastPrice) - 15, yP(prevClose) + 17);
tag(tealTop, 56, COL.teal, "#10201e", [fmt(lastPrice), countdown]);

// A / L buttons
function buttons(y, filledA) {
  svg.append("rect").attr("x", 2446).attr("y", y).attr("width", 36).attr("height", 38).attr("rx", 6)
    .attr("fill", filledA ? "#f0f0f2" : "#050506").attr("stroke", filledA ? "#f0f0f2" : "#4a4a52").attr("stroke-width", 1.5);
  svg.append("text").attr("x", 2464).attr("y", y + 20).attr("text-anchor", "middle").attr("dominant-baseline", "central")
    .attr("font-family", FONT).attr("font-size", 24).attr("fill", filledA ? "#111" : "#e0e0e0").text("A");
  svg.append("rect").attr("x", 2491).attr("y", y).attr("width", 36).attr("height", 38).attr("rx", 6)
    .attr("fill", "#050506").attr("stroke", "#4a4a52").attr("stroke-width", 1.5);
  svg.append("text").attr("x", 2509).attr("y", y + 20).attr("text-anchor", "middle").attr("dominant-baseline", "central")
    .attr("font-family", FONT).attr("font-size", 24).attr("fill", "#e0e0e0").text("L");
}
buttons(1092, false);
buttons(1347, true);
buttons(1514, true);

// settings icon
const hex = d3.range(6).map(i => { const a = Math.PI / 3 * i; return [2487 + 14 * Math.cos(a), 1587 + 14 * Math.sin(a)]; });
svg.append("path").attr("d", "M" + hex.join("L") + "Z").attr("fill", "none").attr("stroke", "#d1d4dc").attr("stroke-width", 2);
svg.append("circle").attr("cx", 2487).attr("cy", 1587).attr("r", 4.5).attr("fill", "none").attr("stroke", "#d1d4dc").attr("stroke-width", 2);
</script>
</body></html>
